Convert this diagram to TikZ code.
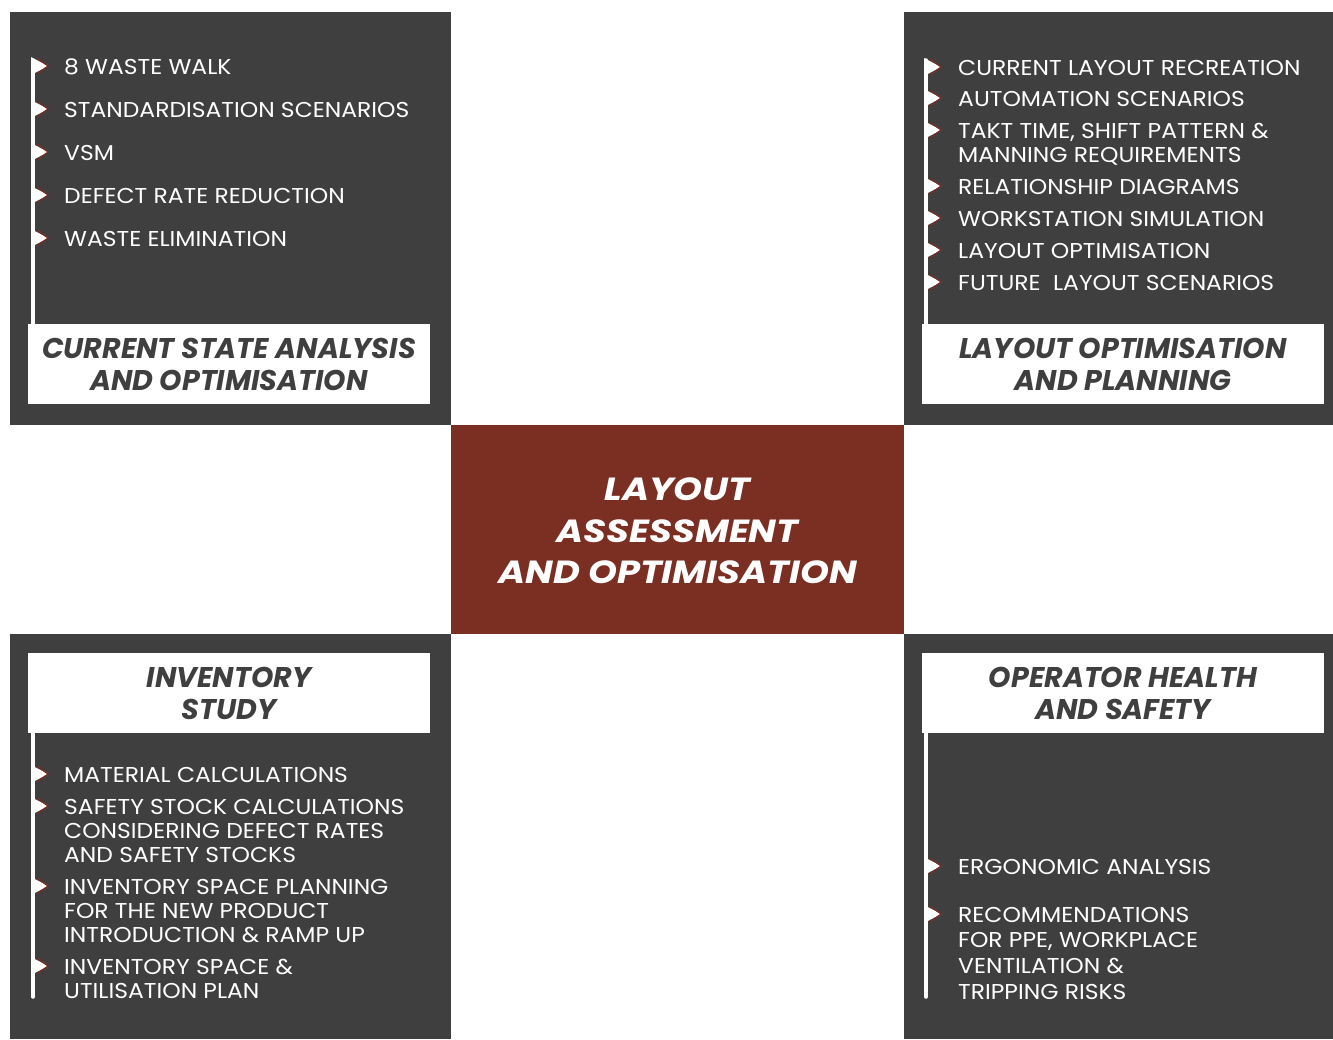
\documentclass[tikz,border=0pt]{standalone}
\usepackage{fontspec}
\setmainfont{Poppins}
\newfontfamily\bodyfont{Poppins}[FakeStretch=1.09]
\newfontfamily\headfont{Poppins}
\newfontfamily\corefont{Poppins}[FakeStretch=1.15]
\begin{document}
\definecolor{panel}{HTML}{3F3F3F}
\definecolor{brick}{HTML}{7B2E22}
\tikzset{
  panelbox/.style={fill=panel, draw=none},
  labelbox/.style={fill=white, draw=none},
  itemtext/.style={anchor=base west, inner sep=0pt, text=white,
    font=\bodyfont\fontsize{21.5}{24}\selectfont},
  titletext/.style={inner sep=0pt, align=center, text=panel,
    font=\headfont\fontsize{28.5}{32}\selectfont\bfseries\itshape},
  stem/.style={draw=white, line width=3.5pt, line cap=round},
  flagmark/.pic={
    \fill[white] (0,-9) -- (17,0) -- (0,9) -- cycle;
    \draw[brick, line width=1.2pt, line join=miter] (6,-8) -- (17,0) -- (6,8);
  }
}
% item text with its first baseline as the node's base
\newcommand{\itemlines}[1]{\parbox[t]{380pt}{\raggedright #1}}
\begin{tikzpicture}[x=1pt, y=-1pt]
\useasboundingbox (0,0) rectangle (1333,1039);
% quadrant panels
\fill[panelbox] (10,12) rectangle (451,425);
\fill[panelbox] (904,12) rectangle (1333,425);
\fill[panelbox] (10,634) rectangle (451,1039);
\fill[panelbox] (904,634) rectangle (1333,1039);
% central block
\fill[brick] (451,425) rectangle (904,634);
\node[inner sep=0pt, align=center, text=white,
  font=\corefont\fontsize{32}{41.5}\selectfont\bfseries\itshape] (core) at (677.5,531)
  {LAYOUT\\ASSESSMENT\\AND OPTIMISATION};

% ---- top left: current state analysis
\coordinate (tlTop) at (33,60);
\coordinate (tlBot) at (33,324);
\draw[stem] (tlTop) -- (tlBot);
\foreach \yy/\nm/\txt in {66/tla/8 WASTE WALK, 109/tlb/STANDARDISATION SCENARIOS,
    152/tlc/VSM, 195/tld/DEFECT RATE REDUCTION, 238/tle/WASTE ELIMINATION}{
  \pic at (31,\yy) {flagmark};
  \node[itemtext] (\nm) at (64,\yy+8) {\itemlines{\txt}};
}
\fill[labelbox] (28,324) rectangle (430,404);
\node[titletext] (tlTitle) at (229,364) {CURRENT STATE ANALYSIS\\AND OPTIMISATION};

% ---- top right: layout optimisation and planning
\coordinate (trTop) at (926,60);
\coordinate (trBot) at (926,324);
\draw[stem] (trTop) -- (trBot);
\foreach \yy/\nm/\txt in {67/tra/CURRENT LAYOUT RECREATION, 98/trb/AUTOMATION SCENARIOS,
    130/trc/{TAKT TIME, SHIFT PATTERN \&\\MANNING REQUIREMENTS},
    186/trd/RELATIONSHIP DIAGRAMS, 218/tre/WORKSTATION SIMULATION,
    250/trf/LAYOUT OPTIMISATION, 282/trg/FUTURE\ \ LAYOUT SCENARIOS}{
  \pic at (924,\yy) {flagmark};
  \node[itemtext] (\nm) at (958,\yy+8) {\itemlines{\txt}};
}
\fill[labelbox] (922,324) rectangle (1324,404);
\node[titletext] (trTitle) at (1123,364) {LAYOUT OPTIMISATION\\AND PLANNING};

% ---- bottom left: inventory study
\fill[labelbox] (28,653) rectangle (430,733);
\node[titletext] (blTitle) at (229,693) {INVENTORY\\STUDY};
\coordinate (blTop) at (33,733);
\coordinate (blBot) at (33,997);
\draw[stem] (blTop) -- (blBot);
\foreach \yy/\nm/\txt in {774/bla/MATERIAL CALCULATIONS,
    806/blb/{SAFETY STOCK CALCULATIONS\\CONSIDERING DEFECT RATES\\AND SAFETY STOCKS},
    886/blc/{INVENTORY SPACE PLANNING\\FOR THE NEW PRODUCT\\INTRODUCTION \& RAMP UP},
    966/bld/{INVENTORY SPACE \&\\UTILISATION PLAN}}{
  \pic at (31,\yy) {flagmark};
  \node[itemtext] (\nm) at (64,\yy+8) {\itemlines{\txt}};
}

% ---- bottom right: operator health and safety
\fill[labelbox] (922,653) rectangle (1324,733);
\node[titletext] (brTitle) at (1123,693) {OPERATOR HEALTH\\AND SAFETY};
\coordinate (brTop) at (926,733);
\coordinate (brBot) at (926,997);
\draw[stem] (brTop) -- (brBot);
\foreach \yy/\nm/\txt in {866/bra/ERGONOMIC ANALYSIS,
    914/brb/{RECOMMENDATIONS\\FOR PPE, WORKPLACE\\VENTILATION \&\\TRIPPING RISKS}}{
  \pic at (924,\yy) {flagmark};
  \node[itemtext, font=\bodyfont\fontsize{21.5}{25.7}\selectfont] (\nm) at (958,\yy+8) {\itemlines{\txt}};
}
\end{tikzpicture}
\end{document}
